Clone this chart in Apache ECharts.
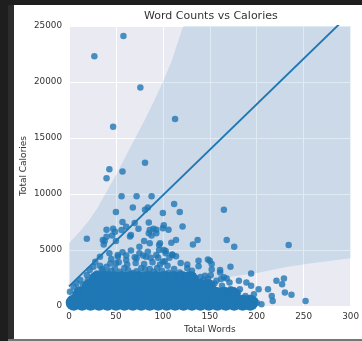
<!DOCTYPE html>
<html>
<head>
<meta charset="utf-8">
<title>Word Counts vs Calories</title>
<script src="https://cdn.jsdelivr.net/npm/echarts@6.0.0/dist/echarts.min.js"></script>
<style>
  html, body { margin: 0; padding: 0; background: #1e1e1e; overflow: hidden; }
  #strip { position: absolute; left: 8px; top: 5px; width: 6px; height: 336px; background: #2c2c2c; }
  #panel { position: absolute; left: 14px; top: 5px; width: 348px; height: 334px; background: #ffffff; }
  #edge { position: absolute; left: 8px; top: 339px; width: 354px; height: 2px; background: #767676; }
  #chart { position: absolute; left: 0; top: 0; width: 362px; height: 341px; }
</style>
</head>
<body>
<div id="strip"></div>
<div id="panel"></div>
<div id="edge"></div>
<div id="chart"></div>
<script>
// axis ticks
const xTicks = [0, 50, 100, 150, 200, 250, 300];
const yTicks = [0, 5000, 10000, 15000, 20000, 25000];

// scattered recipes: [total words, total calories]
const sparsePoints = [
  [27, 22300], [58, 24100], [76, 19500], [113, 16700], [47, 16000],
  [81, 12800], [43, 12200], [40, 11400], [57, 12000],
  [56, 9800], [72, 9800], [88, 9800], [50, 8400], [68, 8800], [81, 8600],
  [84, 8800], [100, 8300], [112, 9100], [118, 8400], [165, 8600],
  [19, 6000], [234, 5450], [168, 5900], [176, 5300], [132, 5500], [137, 5900],
  [121, 7100], [101, 7200], [106, 6800], [57, 7500], [70, 7400], [47, 6900],
  [40, 6800], [46, 6300], [65, 6200], [74, 6900], [85, 7450], [93, 6800],
  [90, 6900], [85, 6500], [88, 6300], [38, 5800], [37, 5500], [50, 5800],
  [80, 5800], [97, 5600], [109, 5650], [114, 5900], [61, 7080], [56, 6790],
  [49, 6640], [66, 6340], [40, 6190], [36, 5890], [86, 6790], [93, 6490], [100, 6940],
  [150, 4050], [172, 3500], [138, 4050], [148, 4150], [152, 3750], [161, 3210],
  [194, 2900], [181, 2250], [221, 2250], [229, 2450], [227, 1950], [230, 1200],
  [237, 1000], [252, 450], [212, 1500], [216, 900], [217, 450], [202, 1500],
  [197, 1050], [198, 500], [194, 1800], [189, 2100], [182, 1500], [175, 1250],
  [171, 2100], [168, 2450], [161, 3000], [152, 3250], [151, 2750], [162, 2400],
  [145, 2700], [138, 3550], [131, 3150], [126, 3700], [119, 3850], [114, 4450],
  [110, 4600], [107, 4300], [102, 4000], [103, 4900], [126, 3360], [165, 2560],
  [96, 5000], [101, 5000], [103, 4700], [110, 4550], [100, 3960],
  [75, 5300], [86, 5600], [96, 5450], [93, 4550], [82, 4400], [72, 4260],
  [61, 4100], [50, 3810], [40, 3510], [33, 4400], [28, 3960], [43, 4700],
  [52, 4550], [22, 3210], [26, 3510], [19, 2770], [12, 2320], [8, 2030],
  [5, 1720], [1, 1280],
  [44, 3800], [53, 3900], [62, 3700], [71, 3850], [80, 3750], [89, 3900],
  [97, 3700], [52, 4400], [61, 4500], [70, 4350], [79, 4500], [87, 4300],
  [57, 4800], [66, 4950], [75, 4700], [84, 4850], [45, 4200], [35, 3300],
  [30, 2900], [95, 4300], [105, 3600], [112, 3300], [118, 3000], [125, 2700],
  [135, 2500], [143, 2300], [155, 2000], [163, 1800], [172, 1500], [180, 1200],
  [188, 900], [195, 600], [200, 300], [205, 150], [10, 1500], [15, 1900],
  [20, 2300], [25, 2600], [33, 3600],
  [36, 3100], [45, 3150], [54, 3050], [63, 3200], [72, 3100], [81, 3250],
  [90, 3050], [99, 3150], [106, 3000], [41, 3000], [49, 3350], [59, 3400],
  [68, 2950], [77, 3400], [86, 3300], [94, 3400], [115, 2800], [132, 2750],
  [140, 2600], [148, 2450], [157, 2250]
];

// the dense mass of recipes near the bottom
const densePoints = [
  [5, 300], [14, 300], [23, 300], [32, 300], [41, 300], [50, 300], [59, 300],
  [68, 300], [77, 300], [86, 300], [95, 300], [104, 300], [113, 300], [122, 300],
  [131, 300], [140, 300], [149, 300], [158, 300], [167, 300], [176, 300],
  [185, 300], [193, 300],
  [12, 1000], [21, 1000], [30, 1000], [39, 1000], [48, 1000], [57, 1000],
  [66, 1000], [75, 1000], [84, 1000], [93, 1000], [102, 1000], [111, 1000],
  [120, 1000], [129, 1000], [138, 1000], [147, 1000], [156, 1000], [165, 1000],
  [174, 1000],
  [22, 1700], [31, 1700], [40, 1700], [49, 1700], [58, 1700], [67, 1700],
  [76, 1700], [85, 1700], [94, 1700], [103, 1700], [112, 1700], [121, 1700],
  [130, 1700], [139, 1700], [148, 1700],
  [30, 2400], [39, 2400], [48, 2400], [57, 2400], [66, 2400], [75, 2400],
  [84, 2400], [93, 2400], [102, 2400], [111, 2400], [120, 2400], [129, 2400]
];

// regression fit end points and confidence band
const fitX = [0, 300];
const fitY = [1750, 26150];
const bandX = [0, 12, 20, 30, 40, 50, 60, 70, 80, 90, 100, 110, 120, 140, 170, 200, 233, 260, 300];
const bandLower = [-1000, 0, 700, 1150, 1450, 1650, 1780, 1900, 2000, 2080, 2150, 2200, 2250, 2350, 2600, 2950, 3500, 3850, 4260];
const bandUpper = [5600, 6700, 7500, 8700, 10200, 11700, 13300, 14900, 16500, 18200, 20000, 22000, 24600, 28500, 35000, 41000, 48000, 54000, 62000];

const blue = '#1f77b4';
const textColor = '#333333';
const font = 'DejaVu Sans';

const chart = echarts.init(document.getElementById('chart'), null, { renderer: 'canvas' });

chart.setOption({
  animation: false,
  title: {
    text: 'Word Counts vs Calories',
    left: 144,
    top: 11,
    padding: 0,
    textStyle: { fontFamily: font, fontSize: 11, fontWeight: 'normal', color: textColor }
  },
  grid: {
    left: 69,
    right: 9,
    top: 26,
    bottom: 35,
    show: true,
    backgroundColor: '#eaeaf2',
    borderWidth: 0
  },
  xAxis: {
    type: 'value',
    min: xTicks[0],
    max: xTicks[xTicks.length - 1],
    interval: xTicks[1] - xTicks[0],
    name: 'Total Words',
    nameLocation: 'middle',
    nameGap: 19,
    nameMoveOverlap: false,
    nameTextStyle: { fontFamily: font, fontSize: 9, color: textColor },
    axisLine: { show: false },
    axisTick: { show: false },
    axisLabel: { fontFamily: font, fontSize: 8.8, color: textColor, margin: 6 },
    splitLine: { show: true, lineStyle: { color: '#ffffff', width: 1 } }
  },
  yAxis: {
    type: 'value',
    min: yTicks[0],
    max: yTicks[yTicks.length - 1],
    interval: yTicks[1] - yTicks[0],
    name: 'Total Calories',
    nameLocation: 'middle',
    nameGap: 41,
    nameMoveOverlap: false,
    nameTextStyle: { fontFamily: font, fontSize: 9, color: textColor },
    axisLine: { show: false },
    axisTick: { show: false },
    axisLabel: {
      fontFamily: font, fontSize: 8.8, color: textColor, margin: 7,
      formatter: (v) => String(v)
    },
    splitLine: { show: true, lineStyle: { color: '#ffffff', width: 1 } }
  },
  series: [
    {
      type: 'scatter',
      data: densePoints,
      symbolSize: 16,
      clip: true,
      itemStyle: { color: blue, opacity: 1 },
      z: 2
    },
    {
      type: 'scatter',
      data: sparsePoints,
      symbolSize: 6.5,
      clip: true,
      itemStyle: { color: blue, opacity: 0.8 },
      z: 2
    },
    {
      // confidence band as one polygon: upper edge forward, lower edge back
      type: 'custom',
      data: [[bandX[0], bandLower[0]]],
      clip: true,
      silent: true,
      z: 3,
      renderItem: (params, api) => {
        const upper = bandX.map((x, i) => api.coord([x, bandUpper[i]]));
        const lower = bandX.map((x, i) => api.coord([x, bandLower[i]])).reverse();
        return {
          type: 'polygon',
          shape: { points: upper.concat(lower) },
          style: { fill: blue, opacity: 0.15 }
        };
      }
    },
    {
      type: 'line',
      data: fitX.map((x, i) => [x, fitY[i]]),
      showSymbol: false,
      lineStyle: { color: blue, width: 1.9 },
      clip: true,
      z: 4
    }
  ]
});
</script>
</body>
</html>
